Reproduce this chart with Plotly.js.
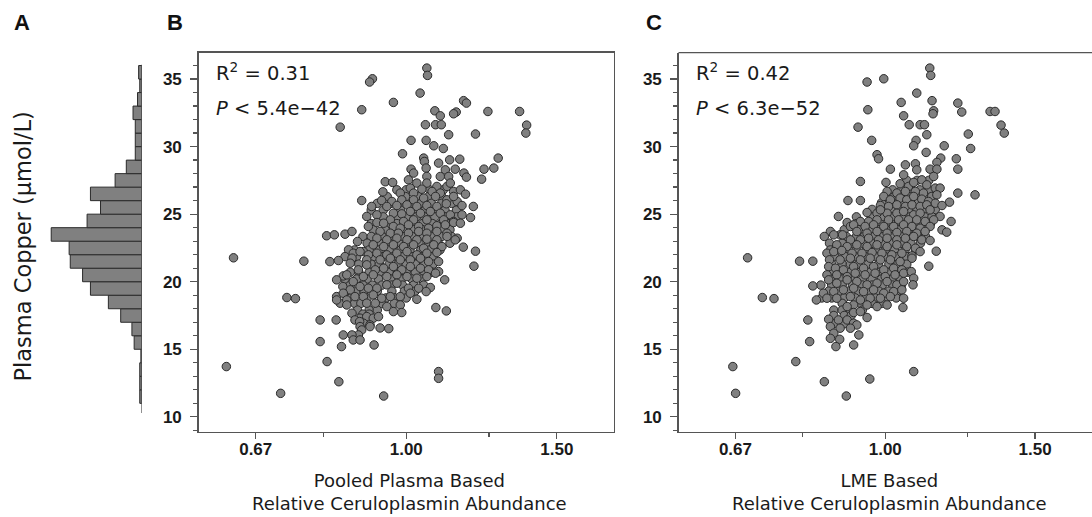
<!DOCTYPE html>
<html>
<head>
<meta charset="utf-8">
<script src="https://cdn.plot.ly/plotly-3.0.1.min.js"></script>
<style>html,body{margin:0;padding:0;background:#fff;}#chart{width:1092px;height:517px;}</style>
</head>
<body>
<div id="chart"></div>
<script>
// ---- Panel A: histogram of plasma copper (bins of 1 µmol/L) ----
const histBinCenters = [11.5,12.5,13.5,14.5,15.5,16.5,17.5,18.5,19.5,20.5,21.5,22.5,23.5,24.5,25.5,26.5,27.5,28.5,29.5,30.5,31.5,32.5,33.5,34.5,35.5];
const histCounts     = [2,2,2,1,7,9,19,30,46,53,64,65,81,49,37,46,24,14,6,6,6,8,4,2,3];

// ---- Panel B: pooled plasma based (outer / readable points) ----
const bX = [1.057,1.059,0.913,0.906,1.038,0.966,1.167,1.176,0.887,1.080,1.246,1.357,1.144,1.136,1.096,0.837,1.053,1.082,1.099,1.383,1.380,1.121,1.205,1.013,1.055,1.077,1.105,0.990,1.048,1.050,1.155,1.124,1.281,1.013,1.055,1.266,1.233,1.141,1.111,1.091,1.168,1.176,1.225,1.020,1.057,1.096,1.121,0.945,0.964,1.006,1.029,1.057,1.086,1.116,1.126,1.011,1.043,1.072,1.136,1.157,0.939,0.984,1.020,1.096,1.173,0.887,0.936,0.962,0.988,1.048,1.020,1.082,1.116,1.147,1.136,0.911,0.949,0.975,1.002,1.029,1.057,1.086,1.114,1.162,1.198,0.899,0.924,0.966,0.988,1.011,1.039,1.067,1.096,1.126,1.162,1.189,1.106,1.136,0.958,1.020,0.993,1.057,0.903,0.924,0.941,0.966,0.984,1.006,1.034,1.062,1.086,1.111,1.136,1.157,0.932,0.958,0.979,1.006,1.034,1.057,1.086,1.116,1.147,0.807,0.824,0.848,0.864,0.877,0.924,0.949,0.975,1.002,1.029,1.057,1.086,1.116,1.141,1.166,0.891,0.915,0.941,0.966,0.993,1.020,1.048,1.077,1.101,0.856,0.867,0.883,0.903,0.924,0.949,0.975,1.002,1.029,1.057,1.086,1.205,0.848,0.864,0.899,0.932,0.958,0.984,1.011,1.039,1.062,1.091,0.814,0.833,0.860,0.879,0.899,0.920,0.941,0.966,0.988,1.011,1.039,1.062,1.091,1.200,0.844,0.852,0.829,0.867,0.891,0.915,0.949,0.975,1.002,1.029,1.057,1.082,1.109,0.843,0.860,0.883,0.903,0.924,0.949,0.975,1.006,1.034,1.067,0.829,0.844,0.837,0.852,0.871,0.891,0.915,0.936,0.958,0.984,1.029,1.055,1.011,0.829,0.852,0.899,0.920,0.949,0.984,0.966,0.988,1.083,1.114,0.864,0.883,0.899,0.915,0.928,0.871,0.828,0.793,0.891,0.907,0.882,0.954,0.932,0.907,0.883,0.887,0.879,0.864,0.844,0.867,0.883,0.917,0.840,0.793,0.808,0.616,1.091,1.091,0.834,0.713,0.941,0.628,0.759,0.725,0.742];
const bY = [35.81,35.27,35.02,34.78,33.96,33.27,33.40,33.22,32.73,32.65,32.60,32.60,32.56,32.43,32.28,31.44,31.62,31.62,31.62,31.59,31.00,30.88,30.93,30.46,30.46,30.06,29.86,29.47,29.15,28.90,29.07,29.02,29.15,28.33,28.41,28.41,28.33,28.33,28.28,28.78,28.04,27.74,27.59,28.04,27.79,27.79,27.79,27.40,27.35,27.54,27.30,27.30,27.05,27.05,27.30,26.93,26.85,26.68,26.68,26.80,26.65,26.56,26.56,26.56,26.48,26.01,26.01,25.94,26.06,26.19,26.06,26.31,26.06,25.94,26.31,25.57,25.57,25.64,25.69,25.57,25.64,25.57,25.77,25.64,25.57,24.83,24.95,25.07,25.02,25.20,25.07,25.20,25.07,24.95,24.95,24.75,24.58,24.46,24.58,24.58,24.46,24.58,24.09,24.38,24.33,24.09,23.96,24.21,24.09,23.96,24.14,24.21,24.38,24.33,23.72,23.59,23.59,23.59,23.72,23.59,23.72,23.59,23.22,23.40,23.47,23.52,23.72,22.98,23.22,23.10,23.22,23.10,23.10,23.15,23.10,23.35,23.10,22.56,22.23,22.73,22.60,22.73,22.60,22.73,22.48,22.73,22.60,22.36,22.11,22.23,21.99,22.11,21.99,22.11,22.23,21.99,22.11,22.16,22.26,21.86,21.74,21.62,21.62,21.74,21.62,21.62,21.74,21.49,21.49,21.49,21.57,21.37,20.88,21.25,20.88,21.00,21.12,20.88,21.12,21.00,20.88,20.75,21.15,20.43,20.51,20.14,20.01,20.38,20.51,20.38,20.51,20.38,20.26,20.38,20.63,20.14,19.64,19.40,19.64,19.52,19.52,19.77,19.89,19.52,19.52,19.57,18.90,19.15,18.41,18.65,18.90,18.90,19.02,18.78,18.90,18.90,18.70,19.27,19.15,18.65,18.28,18.41,18.41,18.16,18.28,17.79,17.72,18.09,17.84,17.67,17.30,17.42,17.30,17.42,17.17,17.17,17.17,16.93,16.80,17.05,16.53,16.58,16.68,16.68,16.43,16.06,16.06,16.06,15.69,15.69,15.32,15.20,15.57,14.09,13.72,13.35,12.85,12.60,11.74,11.54,21.77,21.52,18.83,18.75];
// Panel B: points hidden inside the dense core (estimated)
const bXCore = [0.975,1.000,1.065,1.105, 0.950,0.998,1.034,1.062,1.100, 0.925,0.960,0.990,1.015,1.040,1.070,1.100,1.130, 0.910,0.940,0.985,1.025,1.052,1.082,1.110,1.145, 0.940,0.975,1.000,1.028,1.050,1.080,1.110,1.145, 0.910,0.955,0.975,0.995,1.020,1.045,1.073,1.098,1.122, 0.915,0.945,0.970,0.995,1.020,1.045,1.072,1.100,1.125, 0.890,0.910,0.937,0.962,0.990,1.015,1.043,1.070,1.100,1.130, 0.900,0.930,0.955,0.980,1.008,1.035,1.062,1.090,1.125, 0.870,0.905,0.930,0.955,0.985,1.010,1.040,1.065,1.095, 0.875,0.915,0.940,0.965,0.990,1.018,1.045,1.072, 0.880,0.910,0.930,0.955,0.978,1.000,1.025,1.050,1.075, 0.860,0.880,0.905,0.930,0.955,0.977,1.000,1.025,1.050,1.072, 0.848,0.875,0.900,0.928,0.960,0.988,1.015,1.043, 0.860,0.890,0.913,0.937,0.962,0.990,1.020,1.048, 0.850,0.873,0.893,0.925,0.962,0.995,1.024, 0.862,0.900,0.947,0.970,1.000, 0.870,0.885,0.935,0.968, 0.877,0.905,0.925, 0.890,0.905];
const bYCore = [26.8,26.8,26.8,26.8, 26.3,26.3,26.3,26.3,26.3, 25.8,25.8,25.8,25.8,25.8,25.8,25.8,25.8, 25.3,25.3,25.3,25.3,25.3,25.3,25.3,25.3, 24.8,24.8,24.8,24.8,24.8,24.8,24.8,24.8, 24.3,24.3,24.3,24.3,24.3,24.3,24.3,24.3,24.3, 23.85,23.85,23.85,23.85,23.85,23.85,23.85,23.85,23.85, 23.35,23.35,23.35,23.35,23.35,23.35,23.35,23.35,23.35,23.35, 22.85,22.85,22.85,22.85,22.85,22.85,22.85,22.85,22.85, 22.35,22.35,22.35,22.35,22.35,22.35,22.35,22.35,22.35, 21.85,21.85,21.85,21.85,21.85,21.85,21.85,21.85, 21.3,21.3,21.3,21.3,21.3,21.3,21.3,21.3,21.3, 20.7,20.7,20.7,20.7,20.7,20.7,20.7,20.7,20.7,20.7, 20.2,20.2,20.2,20.2,20.2,20.2,20.2,20.2, 19.75,19.75,19.75,19.75,19.75,19.75,19.75,19.75, 19.3,19.3,19.3,19.3,19.3,19.3,19.3, 18.8,18.8,18.8,18.8,18.8, 18.4,18.4,18.4,18.4, 17.9,17.9,17.9, 17.6,17.6];

// ---- Panel C: LME based (outer / readable points) ----
const cX = [1.128,1.131,0.952,0.996,1.089,1.044,1.135,1.140,1.138,0.954,1.051,1.067,1.099,1.112,1.119,0.929,1.217,1.230,1.328,1.346,1.368,1.380,0.964,1.087,1.080,1.173,1.117,0.978,0.982,1.252,1.260,1.162,1.150,1.212,1.217,1.129,1.150,1.014,1.056,1.085,1.089,1.051,1.140,0.935,1.002,1.041,1.065,1.080,1.104,1.119,1.145,1.160,1.005,1.032,1.056,1.085,1.109,1.134,1.150,1.217,1.275,0.904,0.935,0.996,1.014,1.041,1.060,1.080,1.104,1.124,1.145,1.190,1.166,0.987,1.009,1.032,1.056,1.075,1.099,1.119,0.952,0.978,1.005,0.987,1.032,1.051,1.080,1.099,1.129,1.160,1.195,0.881,0.935,0.956,0.978,1.009,1.037,1.065,1.089,1.114,1.140,0.902,0.910,0.918,0.947,0.969,0.996,1.023,1.051,1.075,1.099,1.129,1.166,1.181,0.862,0.885,0.926,0.952,0.978,1.005,1.032,1.060,1.089,1.114,0.848,0.870,0.891,0.910,0.935,0.956,0.982,1.005,1.032,1.056,1.080,1.104,1.129,0.877,0.902,0.926,0.952,0.978,1.005,1.032,1.060,1.085,1.099,1.148,0.854,0.870,0.889,0.914,0.939,0.965,0.991,1.018,1.046,1.075,0.860,0.885,0.910,0.935,0.960,0.987,1.014,1.041,1.075,0.858,0.874,0.893,0.918,0.943,0.969,0.996,1.023,1.046,1.125,0.854,0.877,0.902,0.922,0.947,0.973,1.000,1.027,1.051,1.073,1.080,0.858,0.877,0.902,0.926,0.952,0.978,1.005,1.032,1.051,1.078,0.822,0.846,0.870,0.893,0.918,0.943,0.969,0.996,1.023,1.046,0.830,0.854,0.877,0.910,0.935,0.960,0.987,1.014,1.051,0.918,0.952,0.978,1.005,1.049,0.902,0.918,0.935,0.952,0.858,0.881,0.902,0.918,0.926,0.811,0.862,0.885,0.910,0.931,0.870,0.862,0.884,0.875,0.918,0.815,0.785,0.848,0.959,1.080,0.900,0.662,0.667,0.689,0.793,0.822,0.717,0.740];
const cY = [35.81,35.27,34.78,35.02,33.96,33.27,33.40,32.65,32.43,32.73,32.28,31.62,31.62,31.62,30.88,31.44,33.22,32.56,32.60,32.60,31.59,31.00,30.46,30.46,30.06,30.06,29.57,29.40,29.10,30.93,29.86,29.15,28.83,29.10,28.33,28.33,28.33,28.33,28.65,28.73,28.28,27.91,27.79,27.42,27.35,27.25,27.05,27.35,27.54,27.17,26.93,26.93,26.68,26.56,26.68,26.68,26.56,26.31,26.43,26.56,26.43,26.01,26.01,26.31,26.06,26.19,26.06,26.31,26.11,25.94,25.81,25.89,25.64,25.64,25.57,25.69,25.57,25.69,25.57,25.69,25.12,25.07,25.07,25.32,25.07,25.20,24.95,25.07,25.32,24.83,24.46,24.83,24.46,24.46,24.58,24.58,24.58,24.58,24.58,24.46,24.58,24.38,24.09,24.21,24.09,24.21,24.09,24.09,24.21,24.09,23.96,24.09,23.84,23.67,23.72,23.47,23.72,23.59,23.72,23.59,23.64,23.72,23.59,23.72,23.35,23.47,23.47,23.10,23.10,23.22,23.10,23.22,23.10,23.22,23.35,23.10,23.05,22.73,22.60,22.73,22.60,22.73,22.60,22.73,22.60,22.48,22.23,22.26,22.11,22.23,22.31,22.11,22.11,22.16,22.11,21.99,22.11,21.91,21.62,21.62,21.74,21.62,21.74,21.62,21.62,21.49,21.74,21.12,21.00,20.88,21.12,21.00,21.12,20.88,21.00,20.88,21.15,20.51,20.51,20.38,20.63,20.51,20.63,20.38,20.51,20.63,20.75,20.26,20.14,19.89,20.14,20.01,19.77,19.89,20.01,19.77,20.01,19.77,19.69,19.15,19.27,19.40,19.52,19.27,19.40,19.15,19.27,19.40,18.65,18.78,18.78,18.90,18.65,18.78,18.78,18.90,18.78,18.28,18.28,18.16,18.28,18.09,18.16,17.72,17.79,17.35,17.22,17.17,17.17,16.93,16.80,17.17,16.68,16.56,16.56,16.06,16.19,15.81,15.74,15.20,15.32,15.57,14.09,12.60,12.80,13.35,11.54,13.72,11.74,21.77,21.52,21.52,18.83,18.75];
// Panel C: points hidden inside the dense core (estimated)
const cXCore = [1.060,1.090,1.125, 1.020,1.045,1.070,1.098,1.125, 1.000,1.025,1.050,1.070,1.092,1.115,1.140, 0.990,1.020,1.050,1.070,1.090,1.112,1.135, 0.965,1.018,1.040,1.065,1.090,1.110,1.145, 0.925,0.965,0.990,1.020,1.045,1.070,1.090,1.112,1.135, 0.925,0.960,0.985,1.010,1.035,1.060,1.085,1.108,1.130, 0.895,0.930,0.960,0.985,1.015,1.040,1.065,1.090,1.115, 0.900,0.925,0.945,0.970,0.995,1.020,1.045,1.068,1.092,1.115, 0.860,0.890,0.915,0.940,0.965,0.990,1.018,1.045,1.072,1.100, 0.862,0.880,0.900,0.925,0.950,0.975,1.000,1.025,1.055,1.085, 0.872,0.898,0.922,0.948,0.975,1.000,1.030,1.060, 0.865,0.890,0.910,0.930,0.955,0.982,1.010,1.035,1.060, 0.865,0.890,0.910,0.935,0.960,0.985,1.012,1.040,1.062, 0.868,0.890,0.915,0.940,0.965,0.990,1.018,1.042, 0.840,0.865,0.890,0.915,0.940,0.965,0.992,1.020,1.045, 0.858,0.882,0.905,0.930,0.957,0.983,1.010,1.035, 0.842,0.865,0.895,0.922,0.948,0.973,1.000,1.030, 0.890,0.935,0.965,0.992, 0.870,0.890,0.910,0.940, 0.870,0.895,0.912, 0.870,0.895];
const cYCore = [27.5,27.5,27.5, 26.8,26.8,26.8,26.8,26.8, 26.3,26.3,26.3,26.3,26.3,26.3,26.3, 25.85,25.85,25.85,25.85,25.85,25.85,25.85, 25.35,25.35,25.35,25.35,25.35,25.35,25.35, 24.8,24.8,24.8,24.8,24.8,24.8,24.8,24.8,24.8, 24.3,24.3,24.3,24.3,24.3,24.3,24.3,24.3,24.3, 23.85,23.85,23.85,23.85,23.85,23.85,23.85,23.85,23.85, 23.35,23.35,23.35,23.35,23.35,23.35,23.35,23.35,23.35,23.35, 22.85,22.85,22.85,22.85,22.85,22.85,22.85,22.85,22.85,22.85, 22.35,22.35,22.35,22.35,22.35,22.35,22.35,22.35,22.35,22.35, 21.85,21.85,21.85,21.85,21.85,21.85,21.85,21.85, 21.3,21.3,21.3,21.3,21.3,21.3,21.3,21.3,21.3, 20.7,20.7,20.7,20.7,20.7,20.7,20.7,20.7,20.7, 20.2,20.2,20.2,20.2,20.2,20.2,20.2,20.2, 19.75,19.75,19.75,19.75,19.75,19.75,19.75,19.75,19.75, 19.3,19.3,19.3,19.3,19.3,19.3,19.3,19.3, 18.8,18.8,18.8,18.8,18.8,18.8,18.8,18.8, 18.4,18.4,18.4,18.4, 17.9,17.9,17.9,17.9, 17.5,17.5,17.5, 16.9,16.9];

// ---- axis tick labels ----
const xTickVals = [0.6667, 1.0, 1.5];
const xTickText = ['0.67', '1.00', '1.50'];
const xMinorVals = [0.8, 1.25];
const yTickVals = [10, 15, 20, 25, 30, 35];

const W = 1092, H = 517;
const px = v => v / W;
const py = v => 1 - v / H;

const axisCol = '#555';
const tickFont = {family: 'Liberation Sans, Arial, sans-serif', size: 17, color: '#1a1a1a', weight: 'bold'};
const titleFont = {family: 'DejaVu Sans, sans-serif', size: 18, color: '#1a1a1a'};
const yDom = [py(431.7), py(52.7)];
const yRange = [8.9, 36.95];

function scatterX(domain, mirror) {
  return {
    domain: domain, type: 'log', range: [-0.243, 0.243],
    showline: true, linecolor: axisCol, linewidth: 1.3, mirror: mirror,
    showgrid: false, zeroline: false,
    ticks: 'outside', ticklen: 6, tickwidth: 1.3, tickcolor: axisCol,
    tickmode: 'array', tickvals: xTickVals, ticktext: xTickText,
    minor: {tickmode: 'array', tickvals: xMinorVals, ticks: 'outside', ticklen: 4, tickwidth: 1.3, tickcolor: axisCol, showgrid: false},
    tickfont: tickFont, ticklabelstandoff: -4
  };
}
function scatterY(mirror) {
  return {
    domain: yDom, range: yRange,
    showline: true, linecolor: axisCol, linewidth: 1.3, mirror: mirror,
    showgrid: false, zeroline: false,
    ticks: 'outside', ticklen: 7, tickwidth: 1.3, tickcolor: axisCol,
    tickmode: 'array', tickvals: yTickVals,
    minor: {tickmode: 'linear', tick0: 0, dtick: 1, ticks: 'outside', ticklen: 4, tickwidth: 1.3, tickcolor: axisCol, showgrid: false},
    tickfont: tickFont, ticklabelstandoff: 5
  };
}

const markerStyle = {size: 8.5, color: '#808080', line: {color: '#2a2a2a', width: 1}};

const data = [
  {type: 'bar', orientation: 'h', x: histCounts, y: histBinCenters, width: 1,
   marker: {color: '#808080', line: {color: '#2a2a2a', width: 1}}, xaxis: 'x', yaxis: 'y', hoverinfo: 'skip'},
  {type: 'scatter', mode: 'markers', x: bXCore.concat(bX), y: bYCore.concat(bY), marker: markerStyle, xaxis: 'x2', yaxis: 'y2', cliponaxis: false},
  {type: 'scatter', mode: 'markers', x: cXCore.concat(cX), y: cYCore.concat(cY), marker: markerStyle, xaxis: 'x3', yaxis: 'y3', cliponaxis: false}
];

const annFont = {family: 'DejaVu Sans, sans-serif', size: 19.5, color: '#1a1a1a'};
const letterFont = {family: 'Liberation Sans, Arial, sans-serif', size: 22, color: '#111', weight: 'bold'};

const layout = {
  width: W, height: H,
  margin: {l: 0, r: 0, t: 0, b: 0, pad: 0},
  paper_bgcolor: '#fff', plot_bgcolor: 'rgba(0,0,0,0)',
  showlegend: false, bargap: 0,
  xaxis: {domain: [px(40), px(142)], range: [91, 0], visible: false, anchor: 'y', fixedrange: true},
  yaxis: {domain: yDom, range: yRange, visible: false, anchor: 'x'},
  xaxis2: Object.assign(scatterX([px(198.5), px(614)], true), {anchor: 'y2'}),
  yaxis2: Object.assign(scatterY(true), {anchor: 'x2'}),
  xaxis3: Object.assign(scatterX([px(678.5), 1], false), {anchor: 'y3'}),
  yaxis3: Object.assign(scatterY(false), {anchor: 'x3'}),
  shapes: [
    {type: 'line', xref: 'x', yref: 'y', x0: 0, x1: 0, y0: 10.28, y1: 36.06, line: {color: axisCol, width: 1.3}},
    {type: 'line', xref: 'paper', yref: 'paper', x0: px(678.5), x1: 1, y0: yDom[1], y1: yDom[1], line: {color: axisCol, width: 1.3}}
  ],
  annotations: [
    {text: 'A', x: px(12), y: py(23), xref: 'paper', yref: 'paper', xanchor: 'left', yanchor: 'middle', showarrow: false, font: letterFont},
    {text: 'B', x: px(164.5), y: py(23), xref: 'paper', yref: 'paper', xanchor: 'left', yanchor: 'middle', showarrow: false, font: letterFont},
    {text: 'C', x: px(644), y: py(23), xref: 'paper', yref: 'paper', xanchor: 'left', yanchor: 'middle', showarrow: false, font: letterFont},
    {text: 'Plasma Copper (μmol/L)', x: px(23), y: py(246.5), xref: 'paper', yref: 'paper', xanchor: 'center', yanchor: 'middle', textangle: -90, showarrow: false,
     font: {family: 'DejaVu Sans, sans-serif', size: 22.5, color: '#1a1a1a'}},
    {text: 'R<sup>2</sup> = 0.31', x: px(214), y: py(72), xref: 'paper', yref: 'paper', xanchor: 'left', yanchor: 'middle', showarrow: false, font: annFont},
    {text: '<i>P</i> &lt; 5.4e−42', x: px(214), y: py(108.5), xref: 'paper', yref: 'paper', xanchor: 'left', yanchor: 'middle', showarrow: false, font: annFont},
    {text: 'R<sup>2</sup> = 0.42', x: px(694), y: py(72), xref: 'paper', yref: 'paper', xanchor: 'left', yanchor: 'middle', showarrow: false, font: annFont},
    {text: '<i>P</i> &lt; 6.3e−52', x: px(694), y: py(108.5), xref: 'paper', yref: 'paper', xanchor: 'left', yanchor: 'middle', showarrow: false, font: annFont},
    {text: 'Pooled Plasma Based<br>Relative Ceruloplasmin Abundance', x: px(409), y: py(468), xref: 'paper', yref: 'paper', xanchor: 'center', yanchor: 'top', showarrow: false, font: titleFont},
    {text: 'LME Based<br>Relative Ceruloplasmin Abundance', x: px(889), y: py(468), xref: 'paper', yref: 'paper', xanchor: 'center', yanchor: 'top', showarrow: false, font: titleFont}
  ]
};

Plotly.newPlot('chart', data, layout, {displayModeBar: false, staticPlot: true});
</script>
</body>
</html>
